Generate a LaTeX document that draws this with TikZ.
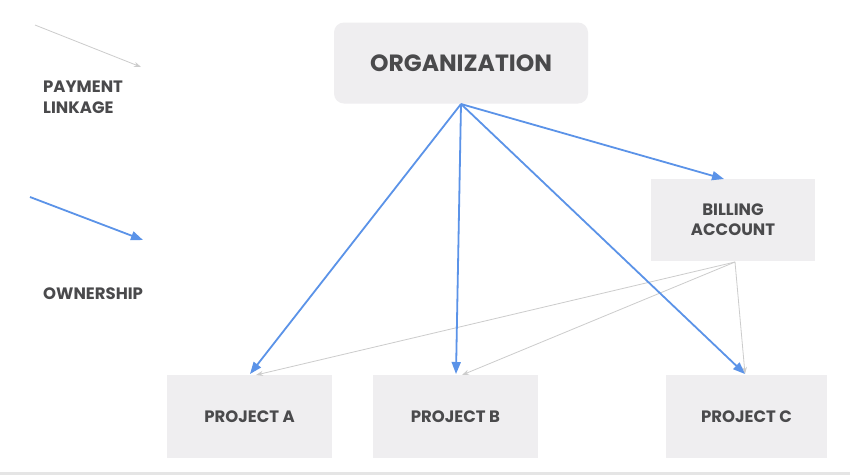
\documentclass[tikz,border=0pt]{standalone}
\usepackage{fontspec}
\setmainfont{Poppins}
\usetikzlibrary{arrows.meta}
\definecolor{boxfill}{HTML}{EFEEF0}
\definecolor{txt}{HTML}{4A4A4C}
\definecolor{own}{HTML}{5B93E8}
\definecolor{pay}{HTML}{CCCCCC}
\tikzset{
  box/.style={fill=boxfill, draw=none, inner sep=0pt, text=txt, font=\bfseries\fontsize{16.5}{20}\selectfont, align=center},
  ownarrow/.style={draw=own, line width=1.8pt, -{Triangle[length=12pt,width=9pt]}},
  payarrow/.style={draw=pay, line width=0.8pt, -{Stealth[length=7pt,width=5pt]}},
  legendtxt/.style={text=txt, font=\bfseries\fontsize{16.5}{21}\selectfont, align=left, anchor=north west, inner sep=0pt}
}
\begin{document}
\begin{tikzpicture}[x=1pt,y=-1pt]
\useasboundingbox (0,0) rectangle (850,475);
\fill[white] (0,0) rectangle (850,475);
\fill[pay!50] (0,472) rectangle (850,475);
\node[box, rounded corners=10pt, minimum width=254pt, minimum height=81pt, font=\bfseries\fontsize{23.5}{28}\selectfont] (org) at (461,63) {ORGANIZATION};
\node[box, minimum width=164pt, minimum height=82pt] (bill) at (733,220) {BILLING\\ACCOUNT};
\node[box, minimum width=165pt, minimum height=83pt] (pa) at (249.5,416.5) {PROJECT A};
\node[box, minimum width=165pt, minimum height=83pt] (pb) at (455.5,416.5) {PROJECT B};
\node[box, minimum width=161pt, minimum height=83pt] (pc) at (746.5,416.5) {PROJECT C};
\coordinate (ob) at (461,104);
\coordinate (bb) at (735,262);
\coordinate (paT) at (250,374);
\coordinate (pbT) at (456,374);
\coordinate (pcT) at (745,374);
\coordinate (paG) at (256,375);
\coordinate (pbG) at (462,375);
\coordinate (billT) at (724,179);
\draw[payarrow] (bb) -- (paG);
\draw[payarrow] (bb) -- (pbG);
\draw[payarrow] (bb) -- (pcT);
\draw[ownarrow] (ob) -- (paT);
\draw[ownarrow] (ob) -- (pbT);
\draw[ownarrow] (ob) -- (pcT);
\draw[ownarrow] (ob) -- (billT);
% legend
\coordinate (l1s) at (35,25);
\coordinate (l1e) at (141,67);
\coordinate (l2s) at (30,197);
\coordinate (l2e) at (143,240);
\draw[payarrow] (l1s) -- (l1e);
\draw[ownarrow] (l2s) -- (l2e);
\node[legendtxt] (lpay) at (43,81) {PAYMENT\\LINKAGE};
\node[legendtxt] (lown) at (43,288) {OWNERSHIP};
\end{tikzpicture}
\end{document}
